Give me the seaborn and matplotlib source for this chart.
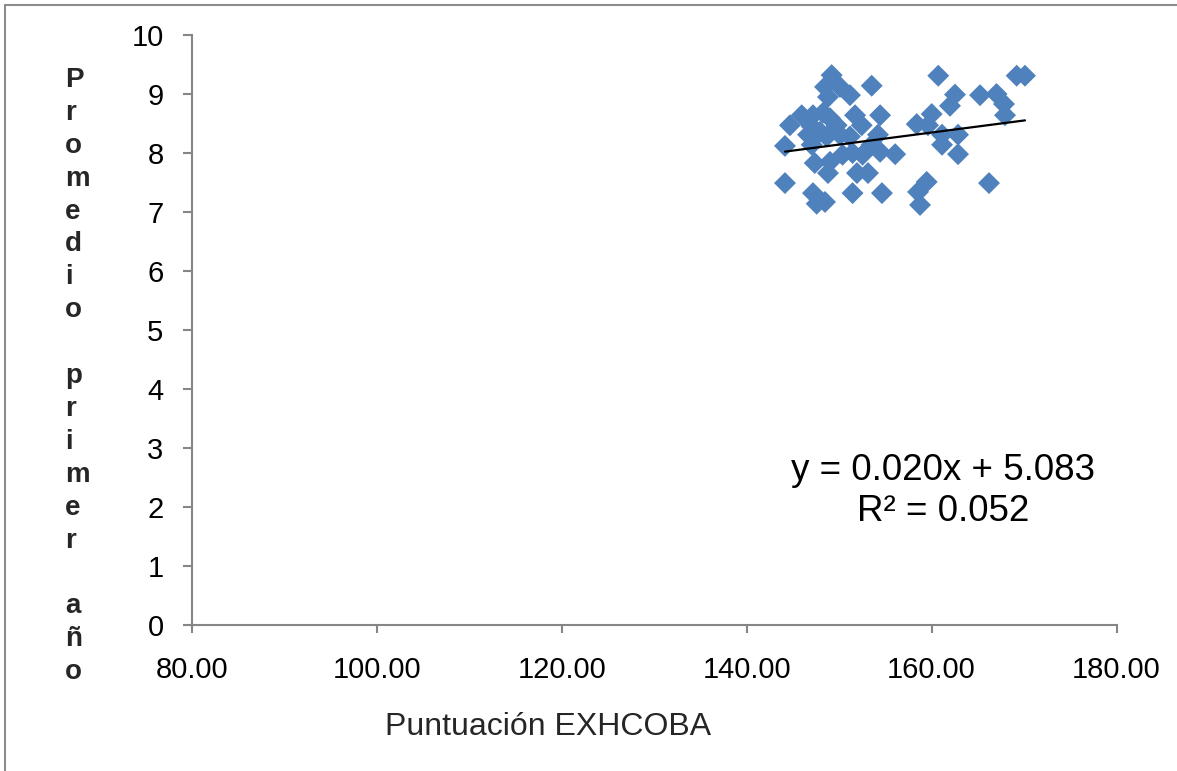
import numpy as np
import pandas as pd
import matplotlib
matplotlib.use("Agg")
import matplotlib.pyplot as plt
from matplotlib.lines import Line2D
import seaborn as sns

# Puntuación EXHCOBA vs promedio del primer año
exhcoba = [149.19, 148.47, 150.09, 148.79, 151.17, 153.52, 145.95, 144.68, 147.17, 148.25,
           149.01, 147.03, 146.63, 147.93, 149.73, 151.72, 152.44, 154.43, 144.14, 147.03,
           148.65, 150.09, 151.17, 154.20, 153.52, 154.43, 156.06, 150.37, 151.45, 152.53,
           147.36, 149.01, 148.79, 151.93, 153.12, 144.14, 147.17, 148.47, 147.57, 151.45,
           154.63, 160.72, 169.20, 170.10, 162.53, 161.99, 165.24, 167.02, 167.83, 167.94,
           160.01, 158.39, 159.61, 161.13, 162.86, 161.13, 162.86, 159.47, 166.21, 158.53,
           158.75]
promedio = [9.32, 9.12, 9.12, 8.95, 8.98, 9.14, 8.64, 8.47, 8.64, 8.68,
            8.59, 8.45, 8.31, 8.36, 8.47, 8.64, 8.47, 8.64, 8.12, 8.14,
            8.28, 8.31, 8.28, 8.31, 8.14, 8.02, 7.98, 7.97, 8.00, 7.97,
            7.83, 7.85, 7.66, 7.66, 7.66, 7.49, 7.32, 7.17, 7.14, 7.32,
            7.32, 9.31, 9.31, 9.31, 8.99, 8.80, 8.98, 9.00, 8.83, 8.64,
            8.66, 8.49, 8.47, 8.31, 8.31, 8.14, 7.98, 7.51, 7.49, 7.34,
            7.12]

# Linear trend line coefficients and fit quality
slope = 0.0204
intercept = 5.083
r2 = 0.052

x_ticks = [80, 100, 120, 140, 160, 180]
y_ticks = [0, 1, 2, 3, 4, 5, 6, 7, 8, 9, 10]

x_label = "Puntuación EXHCOBA"
y_label = "Promedio primer año"

df = pd.DataFrame({"x": exhcoba, "y": promedio})

sns.set_theme(style="white")
plt.rcParams["font.family"] = ["Liberation Sans", "DejaVu Sans"]

W, H = 1177, 771
fig = plt.figure(figsize=(W / 100, H / 100), dpi=100)
ax = fig.add_axes([192 / W, 1 - 625 / H, (1116.5 - 192) / W, (625 - 35) / H])

sns.scatterplot(data=df, x="x", y="y", ax=ax, marker="D", s=125,
                color="#4F81BD", edgecolor="none", linewidth=0, zorder=3)

xs = np.array([min(exhcoba), max(exhcoba)])
ax.plot(xs, slope * xs + intercept, color="black", lw=1.6, zorder=4)

ax.set_xlim(80, 180)
ax.set_ylim(0, 10)
ax.set_xticks(x_ticks)
ax.set_xticklabels([f"{v:.2f}" for v in x_ticks])
ax.set_yticks(y_ticks)
ax.set_yticklabels([str(v) for v in y_ticks])
ax.set_xlabel("")
ax.set_ylabel("")

for side in ("top", "right"):
    ax.spines[side].set_visible(False)
for side in ("left", "bottom"):
    ax.spines[side].set_color("#868686")
    ax.spines[side].set_linewidth(1.5)

ax.tick_params(axis="x", direction="out", length=6, width=1.5, color="#868686",
               labelsize=21, pad=16, labelcolor="black", bottom=True)
ax.tick_params(axis="y", direction="out", length=6.5, width=1.5, color="#868686",
               labelsize=21, pad=14, labelcolor="black", left=True)
ax.grid(False)

# Regression equation
ax.text((943 - 192) / 924.5, (625 - 491) / 590,
        f"y = {slope:.3f}x + {intercept:.3f}\nR² = {r2:.3f}",
        transform=ax.transAxes, ha="center", va="center", fontsize=26.5,
        linespacing=1.2, color="black")

# Axis titles
fig.text(548 / W, 1 - 727 / H, x_label, ha="center", va="center", fontsize=23)
stacked = "\n".join(" " if c == " " else c for c in y_label)
fig.text(65 / W, 1 - 376 / H, stacked, ha="left", va="center", fontsize=20,
         fontweight="bold", linespacing=1.345, multialignment="left")

# Chart-area frame
frame_kw = dict(color="#8c8c8c", lw=1.5, transform=fig.transFigure)
fig.add_artist(Line2D([5 / W, 5 / W], [0, 1 - 5 / H], **frame_kw))
fig.add_artist(Line2D([5 / W, 1], [1 - 5 / H, 1 - 5 / H], **frame_kw))

fig.savefig("out.png", dpi=100)
